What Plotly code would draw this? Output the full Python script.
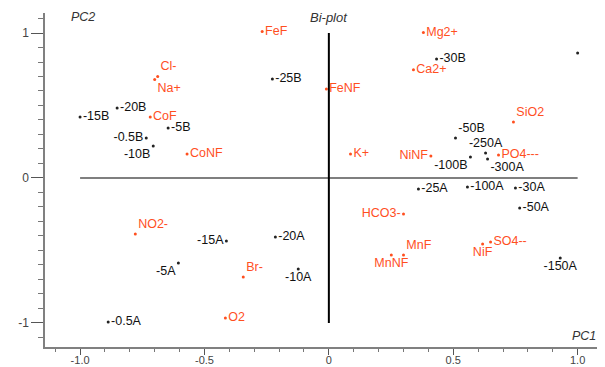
import plotly.graph_objects as go

# Variables (red)
var_names = ["FeF", "Mg2+", "Ca2+", "Cl-", "Na+", "FeNF", "CoF", "CoNF", "K+", "NiNF",
             "SiO2", "PO4---", "HCO3-", "MnF", "MnNF", "NiF", "SO4--", "NO2-", "Br-", "O2"]
var_pc1 = [-0.268, 0.38, 0.34, -0.688, -0.70, -0.01, -0.718, -0.57, 0.087, 0.41,
           0.742, 0.682, 0.30, 0.30, 0.251, 0.618, 0.65, -0.778, -0.344, -0.416]
var_pc2 = [1.01, 1.003, 0.746, 0.70, 0.68, 0.614, 0.42, 0.166, 0.166, 0.152,
           0.386, 0.159, -0.248, -0.531, -0.531, -0.455, -0.441, -0.386, -0.683, -0.966]

# Samples (black)
smp_names = ["-15B", "-20B", "-5B", "-0.5B", "-10B", "-25B", "-30B", "", "-50B", "-250A",
             "-100B", "-300A", "-25A", "-100A", "-30A", "-50A", "-150A", "-20A", "-10A",
             "-15A", "-5A", "-0.5A"]
smp_pc1 = [-1.0, -0.851, -0.646, -0.734, -0.706, -0.227, 0.433, 1.0, 0.509, 0.63,
           0.569, 0.638, 0.36, 0.557, 0.75, 0.767, 0.93, -0.215, -0.123,
           -0.412, -0.605, -0.887]
smp_pc2 = [0.42, 0.483, 0.345, 0.276, 0.22, 0.683, 0.821, 0.862, 0.276, 0.172,
           0.145, 0.131, -0.076, -0.062, -0.069, -0.207, -0.552, -0.407, -0.628,
           -0.434, -0.586, -0.993]

x_tickvals = [-1.0, -0.5, 0, 0.5, 1.0]
x_ticktext = ["-1.0", "-0.5", "0", "0.5", "1.0"]
y_tickvals = [-1, 0, 1]
y_ticktext = ["-1", "0", "1"]

var_pos = ["middle right", "middle right", "middle right", "top right", "bottom right",
           "middle right", "middle right", "middle right", "middle right", "middle left",
           "top right", "middle right", "middle left", "top right", "bottom center",
           "bottom center", "middle right", "top right", "top right", "middle right"]
smp_pos = ["middle right", "middle right", "middle right", "middle left", "bottom left",
           "middle right", "middle right", "middle right", "top right", "top center",
           "bottom left", "bottom right", "middle right", "middle right", "middle right",
           "middle right", "bottom center", "middle right", "bottom center",
           "middle left", "bottom left", "middle right"]

RED = "#ff4f1f"
FONT = "Liberation Sans, Arial, sans-serif"
FS = 12.5

fig = go.Figure()
fig.add_trace(go.Scatter(x=var_pc1, y=var_pc2, text=var_names, mode="markers+text",
                         textposition=var_pos, marker=dict(size=3, color=RED),
                         textfont=dict(color=RED, size=FS, family=FONT),
                         cliponaxis=False, showlegend=False))
fig.add_trace(go.Scatter(x=smp_pc1, y=smp_pc2, text=smp_names, mode="markers+text",
                         textposition=smp_pos, marker=dict(size=3, color="#222222"),
                         textfont=dict(color="#111111", size=FS, family=FONT),
                         cliponaxis=False, showlegend=False))

fig.add_shape(type="line", x0=-1, x1=1, y0=0, y1=0, line=dict(color="#555555", width=1.5))
fig.add_shape(type="line", x0=0, x1=0, y0=-1, y1=1, line=dict(color="#000000", width=2))

fig.add_annotation(text="<i>Bi-plot</i>", x=0.0, y=1.11, xref="x", yref="y", showarrow=False,
                   font=dict(size=13, color="#333333", family=FONT))
fig.add_annotation(text="<i>PC2</i>", x=-0.99, y=1.11, xref="x", yref="y", showarrow=False,
                   font=dict(size=12.5, color="#333333", family=FONT))
fig.add_annotation(text="<i>PC1</i>", x=1.025, y=-1.09, xref="x", yref="y", showarrow=False,
                   font=dict(size=12.5, color="#333333", family=FONT))

fig.update_xaxes(range=[-1.141, 1.11], tickvals=x_tickvals, ticktext=x_ticktext,
                 showgrid=False, zeroline=False, showline=True, linecolor="#808080",
                 linewidth=1.5, ticks="outside", ticklen=6, tickcolor="#555555",
                 ticklabelstandoff=-4,
                 tickfont=dict(size=11, color="#444444", family=FONT),
                 minor=dict(dtick=0.1, tick0=0, ticks="outside", ticklen=3, tickcolor="#777777"))
fig.update_yaxes(range=[-1.166, 1.138], tickvals=y_tickvals, ticktext=y_ticktext,
                 showgrid=False, zeroline=False, showline=True, linecolor="#808080",
                 linewidth=1.5, ticks="outside", ticklen=12, tickcolor="#555555",
                 tickfont=dict(size=12, color="#444444", family=FONT),
                 minor=dict(dtick=0.1, tick0=0, ticks="outside", ticklen=5, tickcolor="#777777"))

# page body has an 8px default margin, so the figure is 8px smaller than the window
fig.update_layout(width=597, height=359, margin=dict(l=37, r=0, t=5, b=20, autoexpand=False),
                  plot_bgcolor="white", paper_bgcolor="white", showlegend=False)

fig.write_html("out.html")
